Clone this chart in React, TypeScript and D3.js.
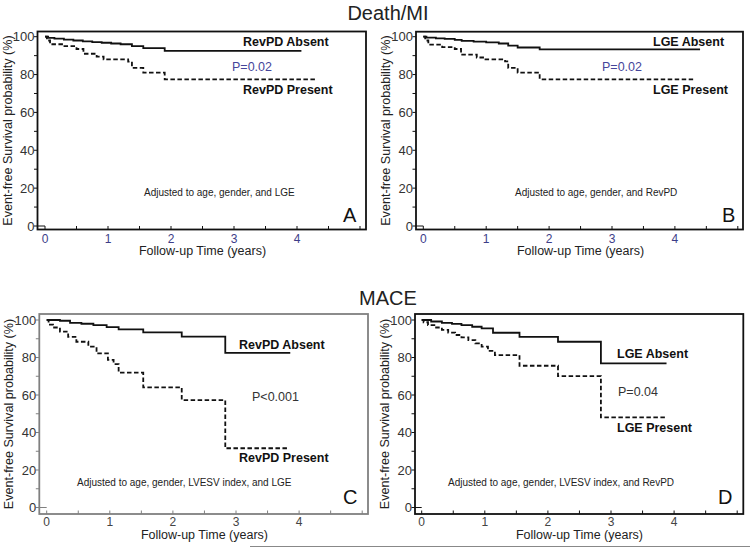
import React from "react";
import * as d3 from "d3";

// ---------- data ----------
const xTicks = [0, 1, 2, 3, 4];
const yTicks = [0, 20, 40, 60, 80, 100];

// Panel A: Death/MI by RevPD
const aAbsentT = [0, 0.05, 0.15, 0.3, 0.45, 0.6, 0.75, 0.9, 1.05, 1.2, 1.38, 1.56, 1.9, 4.07];
const aAbsentV = [100, 99.4, 99, 98.5, 98, 97.5, 97.1, 96.8, 96.4, 96, 95, 94, 92.5, 92.5];
const aPresentT = [0, 0.03, 0.08, 0.29, 0.5, 0.61, 0.82, 0.93, 1.32, 1.38, 1.56, 1.9, 4.29];
const aPresentV = [100, 98, 96, 95, 93.5, 91, 89.5, 88, 86.8, 83.5, 81, 77.5, 77.5];

// Panel B: Death/MI by LGE
const bAbsentT = [0, 0.05, 0.2, 0.34, 0.5, 0.61, 0.8, 1.0, 1.2, 1.35, 1.5, 1.85, 4.4];
const bAbsentV = [100, 99.5, 99.1, 98.8, 98.3, 97.8, 97.4, 97, 96.4, 95.3, 94.3, 93.3, 93.3];
const bPresentT = [0, 0.03, 0.08, 0.3, 0.5, 0.6, 0.85, 0.95, 1.3, 1.35, 1.5, 1.85, 4.29];
const bPresentV = [100, 98, 95.8, 94.5, 93.5, 90.5, 89, 88, 87, 83.5, 81, 77.5, 77.5];

// Panel C: MACE by RevPD
const cAbsentT = [0, 0.21, 0.37, 0.55, 0.74, 0.95, 1.14, 1.53, 2.14, 2.83, 3.86];
const cAbsentV = [100, 99.6, 98.5, 98, 97.3, 96.2, 95, 93.4, 91.1, 82.5, 82.5];
const cPresentT = [0, 0.03, 0.1, 0.21, 0.34, 0.47, 0.66, 0.79, 0.97, 1.06, 1.14, 1.53, 2.14, 2.83, 3.84];
const cPresentV = [100, 97.5, 96, 93.8, 91, 88.4, 85.8, 82.2, 78.7, 76.5, 71.9, 64.1, 57.3, 31.6, 31.6];

// Panel D: MACE by LGE
const dAbsentT = [0, 0.15, 0.32, 0.48, 0.63, 0.8, 0.95, 1.13, 1.55, 2.16, 2.84, 3.88];
const dAbsentV = [100, 99.2, 98.5, 97.9, 97.3, 96.4, 95.5, 93.2, 91, 88.4, 76.9, 76.9];
const dPresentT = [0, 0.03, 0.1, 0.2, 0.32, 0.42, 0.53, 0.63, 0.74, 0.85, 0.95, 1.05, 1.16, 1.55, 2.16, 2.84, 3.88];
const dPresentV = [100, 98.8, 97.3, 96, 94.7, 93.3, 92, 90.7, 89.3, 87.5, 85.8, 83.5, 81.3, 75.6, 70.1, 48.1, 48.1];

const titles = ["Death/MI", "MACE"];
const xAxisTitle = "Follow-up Time (years)";
const yAxisTitle = "Event-free Survival probability (%)";

const FONT = "'Liberation Sans', Arial, Helvetica, sans-serif";

type PanelCfg = {
  left: number; top: number; right: number; bottom: number;
  x0: number; xPer: number; y0: number; y100: number;
  border: string; xTickColor: string; tickDy: number; titleDy: number;
  absT: number[]; absV: number[]; preT: number[]; preV: number[];
  absLabel: string; absPos: [number, number];
  preLabel: string; prePos: [number, number];
  pText: string; pPos: [number, number]; pColor: string;
  adj: string; adjPos: [number, number];
  letter: string; letterPos: [number, number];
};

function Panel({ c }: { c: PanelCfg }) {
  const x = d3.scaleLinear().domain([0, 5]).range([c.x0, c.x0 + 5 * c.xPer]);
  const y = d3.scaleLinear().domain([0, 100]).range([c.y0, c.y100]);
  const line = d3
    .line<[number, number]>()
    .x((d) => x(d[0]))
    .y((d) => y(d[1]))
    .curve(d3.curveStepAfter);
  const abs: [number, number][] = c.absT.map((t, i) => [t, c.absV[i]]);
  const pre: [number, number][] = c.preT.map((t, i) => [t, c.preV[i]]);
  const minorY = d3.range(0, 101, 10);
  const minorX = d3.range(0, 5.01, 0.5);
  const cy = (c.top + c.bottom) / 2;
  return (
    <g fontFamily={FONT}>
      <rect x={c.left} y={c.top} width={c.right - c.left} height={c.bottom - c.top}
        fill="none" stroke={c.border} strokeWidth={1.8} />
      {minorY.map((v) => (
        <line key={"yt" + v} x1={c.left - 3.5} x2={c.left} y1={y(v)} y2={y(v)} stroke={c.border} strokeWidth={1} />
      ))}
      <line x1={c.left} x2={x(0)} y1={y(0)} y2={y(0)} stroke={c.border} strokeWidth={1} />
      {minorX.map((t) => (
        <line key={"xt" + t} x1={x(t)} x2={x(t)} y1={c.bottom} y2={c.bottom - 3.5} stroke={c.border} strokeWidth={1} />
      ))}
      {yTicks.map((v) => (
        <text key={"yl" + v} x={c.left - 3} y={y(v)} dy="0.36em" textAnchor="end" fontSize={13} fill="#333">
          {v}
        </text>
      ))}
      {xTicks.map((t) => (
        <text key={"xl" + t} x={x(t)} y={c.bottom + c.tickDy} textAnchor="middle" fontSize={12} fill={c.xTickColor}>
          {t}
        </text>
      ))}
      <text x={x(2.5)} y={c.bottom + c.titleDy} textAnchor="middle" fontSize={12.5} fill="#222">
        {xAxisTitle}
      </text>
      <text transform={`translate(${c.left - 26},${cy}) rotate(-90)`} textAnchor="middle" fontSize={12.6} fill="#222">
        {yAxisTitle}
      </text>
      <path d={line(abs) || ""} fill="none" stroke="#111" strokeWidth={1.8} />
      <path d={line(pre) || ""} fill="none" stroke="#111" strokeWidth={1.8} strokeDasharray="4.5,2.5" />
      <text x={c.absPos[0]} y={c.absPos[1]} fontSize={12.5} fontWeight={700} fill="#111">{c.absLabel}</text>
      <text x={c.prePos[0]} y={c.prePos[1]} fontSize={12.5} fontWeight={700} fill="#111">{c.preLabel}</text>
      <text x={c.pPos[0]} y={c.pPos[1]} fontSize={12.5} fill={c.pColor}>{c.pText}</text>
      <text x={c.adjPos[0]} y={c.adjPos[1]} fontSize={10} fill="#222">{c.adj}</text>
      <text x={c.letterPos[0]} y={c.letterPos[1]} fontSize={20} fill="#111">{c.letter}</text>
    </g>
  );
}

const panels: PanelCfg[] = [
  {
    left: 37.5, top: 31.5, right: 366, bottom: 229.5, x0: 45, xPer: 63, y0: 226, y100: 36.7,
    border: "#111", xTickColor: "#3d3d88", tickDy: 13, titleDy: 25.5,
    absT: aAbsentT, absV: aAbsentV, preT: aPresentT, preV: aPresentV,
    absLabel: "RevPD Absent", absPos: [243, 46], preLabel: "RevPD Present", prePos: [243, 94],
    pText: "P=0.02", pPos: [232, 71], pColor: "#45459a",
    adj: "Adjusted to age, gender, and LGE", adjPos: [144, 196],
    letter: "A", letterPos: [343, 222],
  },
  {
    left: 416, top: 31.7, right: 743, bottom: 229.5, x0: 423.3, xPer: 62.9, y0: 226, y100: 36.7,
    border: "#111", xTickColor: "#3d3d88", tickDy: 13, titleDy: 25.5,
    absT: bAbsentT, absV: bAbsentV, preT: bPresentT, preV: bPresentV,
    absLabel: "LGE Absent", absPos: [653, 46], preLabel: "LGE Present", prePos: [653, 94],
    pText: "P=0.02", pPos: [602, 71], pColor: "#45459a",
    adj: "Adjusted to age, gender, and RevPD", adjPos: [515, 196],
    letter: "B", letterPos: [722, 222],
  },
  {
    left: 39.3, top: 314, right: 368, bottom: 514, x0: 46.7, xPer: 63.1, y0: 507.5, y100: 320,
    border: "#808080", xTickColor: "#444", tickDy: 12, titleDy: 24.5,
    absT: cAbsentT, absV: cAbsentV, preT: cPresentT, preV: cPresentV,
    absLabel: "RevPD Absent", absPos: [239, 349], preLabel: "RevPD Present", prePos: [239, 462],
    pText: "P<0.001", pPos: [252, 401], pColor: "#333",
    adj: "Adjusted to age, gender, LVESV index, and LGE", adjPos: [77, 486],
    letter: "C", letterPos: [343, 504],
  },
  {
    left: 415, top: 314, right: 743.3, bottom: 514, x0: 421.7, xPer: 63.1, y0: 507.5, y100: 320,
    border: "#111", xTickColor: "#444", tickDy: 12, titleDy: 24.5,
    absT: dAbsentT, absV: dAbsentV, preT: dPresentT, preV: dPresentV,
    absLabel: "LGE Absent", absPos: [617, 358], preLabel: "LGE Present", prePos: [617, 432],
    pText: "P=0.04", pPos: [618, 396], pColor: "#333",
    adj: "Adjusted to age, gender, LVESV index, and RevPD", adjPos: [448, 486],
    letter: "D", letterPos: [718, 504],
  },
];

export default function App() {
  return (
    <svg width={750} height={549} style={{ position: "absolute", left: 0, top: 0, display: "block", background: "#fff" }}>
      <rect x={0} y={0} width={750} height={549} fill="#fff" />
      <text x={388} y={20} textAnchor="middle" fontSize={20} fontFamily={FONT} fill="#222">{titles[0]}</text>
      <text x={388} y={305} textAnchor="middle" fontSize={20} fontFamily={FONT} fill="#222">{titles[1]}</text>
      {panels.map((p, i) => (
        <Panel key={i} c={p} />
      ))}
      <line x1={250} x2={750} y1={546.5} y2={546.5} stroke="#888" strokeWidth={1} />
    </svg>
  );
}
